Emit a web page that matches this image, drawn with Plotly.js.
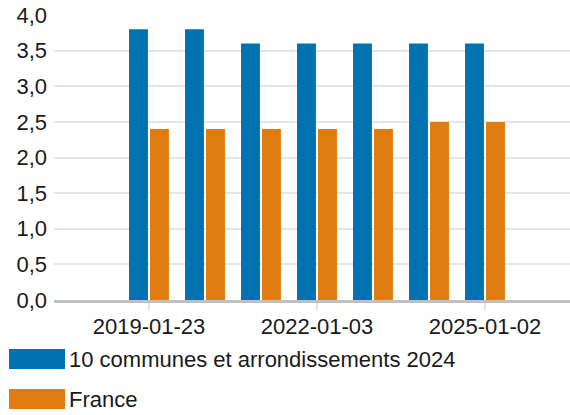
<!DOCTYPE html>
<html>
<head>
<meta charset="utf-8">
<script src="https://cdn.plot.ly/plotly-3.0.1.min.js"></script>
<style>
  html, body { margin: 0; padding: 0; background: #ffffff; }
  #chart { width: 570px; height: 415px; }
</style>
</head>
<body>
<div id="chart"></div>
<script>
// Data
var categories = ["2019-01-23", "2020-01-22", "2021-01-20", "2022-01-03", "2023-01-04", "2024-01-03", "2025-01-02"];
var seriesNames = ["10 communes et arrondissements 2024", "France"];
var communesValues = [3.8, 3.8, 3.6, 3.6, 3.6, 3.6, 3.6];
var franceValues = [2.4, 2.4, 2.4, 2.4, 2.4, 2.5, 2.5];
var shownTickLabels = [categories[0], categories[3], categories[6]];
var yTickValues = [0, 0.5, 1, 1.5, 2, 2.5, 3, 3.5, 4];

var colors = ["#0072b2", "#e07b0f"];
var fontFamily = "'Liberation Sans', Arial, Helvetica, sans-serif";
var textColor = "#1a1a1a";

var traces = [
  { type: "bar", name: seriesNames[0], x: categories, y: communesValues,
    marker: { color: colors[0] }, hoverinfo: "x+y+name" },
  { type: "bar", name: seriesNames[1], x: categories, y: franceValues,
    marker: { color: colors[1] }, hoverinfo: "x+y+name" }
];

// Legend drawn as swatches + text below the plot
var legendShapes = [];
var legendAnnotations = [];
var legendRowsPx = [359, 399];
var H = 415, mB = 115, mT = 15, plotH = H - mB - mT;
function pxToPaperY(py) { return (H - mB - py) / plotH; }
var W = 570, mL = 54, mR = 0, plotW = W - mL - mR;
function pxToPaperX(px) { return (px - mL) / plotW; }
for (var i = 0; i < seriesNames.length; i++) {
  var cy = legendRowsPx[i];
  legendShapes.push({
    type: "rect", xref: "paper", yref: "paper",
    x0: pxToPaperX(9), x1: pxToPaperX(65),
    y0: pxToPaperY(cy + 10), y1: pxToPaperY(cy - 10),
    fillcolor: colors[i], line: { width: 0 }
  });
  legendAnnotations.push({
    xref: "paper", yref: "paper", x: pxToPaperX(67), y: pxToPaperY(cy),
    xanchor: "left", yanchor: "middle", showarrow: false,
    text: seriesNames[i], font: { family: fontFamily, size: 22, color: textColor }
  });
}

var layout = {
  width: 570, height: 415,
  margin: { l: mL, r: mR, t: mT, b: mB, pad: 0 },
  paper_bgcolor: "#ffffff", plot_bgcolor: "#ffffff",
  font: { family: fontFamily, size: 22, color: textColor },
  separators: ",.",
  showlegend: false,
  barmode: "group",
  bargap: 0.25,
  bargroupgap: 0.1,
  xaxis: {
    type: "category",
    range: [-1.696, 7.518],
    tickmode: "array",
    tickvals: shownTickLabels,
    ticktext: shownTickLabels,
    ticks: "outside", ticklen: 8, tickwidth: 2, tickcolor: "#e3e3e3",
    ticklabelstandoff: -3,
    showgrid: false,
    showline: true, linecolor: "#c0c0c0", linewidth: 3,
    tickfont: { family: fontFamily, size: 22, color: textColor },
    fixedrange: true
  },
  yaxis: {
    range: [0, 4],
    tickmode: "array",
    tickvals: yTickValues,
    tickformat: ".1f",
    showgrid: true, gridcolor: "#e6e6e6", gridwidth: 2,
    zeroline: false,
    showline: false,
    ticks: "", ticklabelstandoff: 6,
    tickfont: { family: fontFamily, size: 22, color: textColor },
    fixedrange: true
  },
  shapes: legendShapes,
  annotations: legendAnnotations
};

Plotly.newPlot("chart", traces, layout, { displayModeBar: false, staticPlot: false });
</script>
</body>
</html>
